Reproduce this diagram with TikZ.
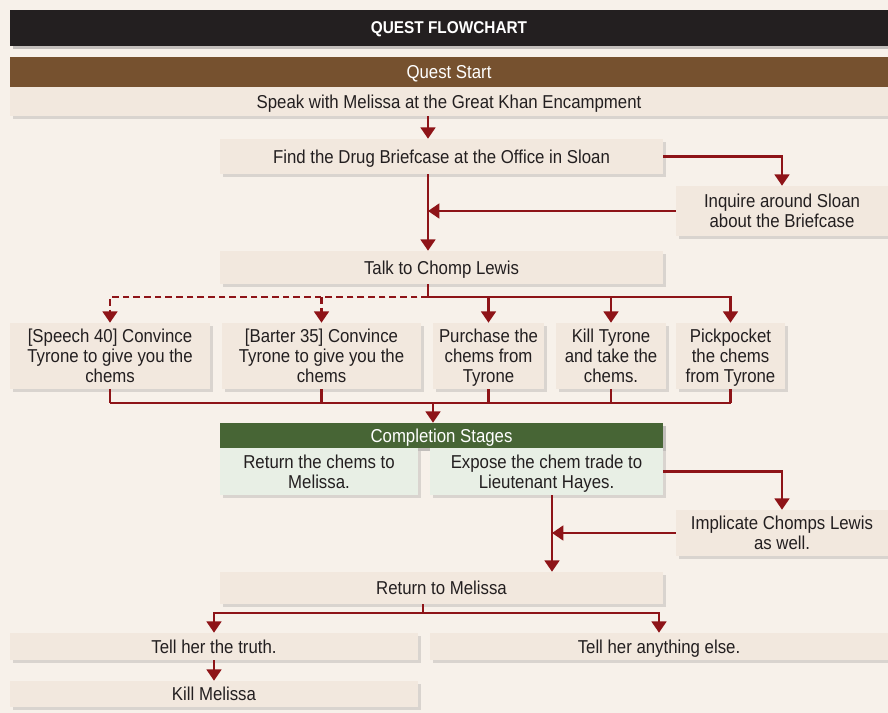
\documentclass[tikz,border=0pt]{standalone}
\usepackage{fontspec}
\setmainfont[FakeStretch=0.9]{Liberation Sans}
\usetikzlibrary{arrows.meta,shadows}

\definecolor{bgcream}{HTML}{F7F1EA}
\definecolor{boxcream}{HTML}{F2E8DE}
\definecolor{boxgreen}{HTML}{E8EFE5}
\definecolor{titleblack}{HTML}{231F20}
\definecolor{startbrown}{HTML}{76512F}
\definecolor{stagegreen}{HTML}{476535}
\definecolor{arrowred}{HTML}{8E1418}

\begin{document}
\begin{tikzpicture}[x=0.75pt,y=-0.75pt,
  font=\fontsize{14}{15}\selectfont, text=titleblack,
  box/.style 2 args={fill=boxcream, minimum width=#1*0.75pt, minimum height=#2*0.75pt,
    inner sep=0pt, align=center, text depth=0pt,
    drop shadow={shadow xshift=2pt, shadow yshift=-2.5pt, opacity=0.25}},
  greenbox/.style 2 args={box={#1}{#2}, fill=boxgreen},
  bar/.style={text=white, drop shadow={shadow xshift=2pt, shadow yshift=-2.5pt, opacity=0.25}},
  link/.style={draw=arrowred, line width=2pt},
  flow/.style={link, -{Triangle[length=8.5pt,width=11pt]}},
  choice/.style={flow, dash pattern=on 5pt off 3pt}]

\fill[bgcream] (0,0) rectangle (888,713);
\useasboundingbox (0,0) rectangle (888,713);

% header
\node[box={878}{36}, bar, fill=titleblack, font=\fontsize{12.8}{15}\selectfont\bfseries] (title) at (449,28) {QUEST FLOWCHART};
\node[box={878}{30}, bar, fill=startbrown] (start) at (449,72) {Quest Start};
\node[box={878}{29}] (speak) at (449,101.5) {Speak with Melissa at the Great Khan Encampment};

\node[box={443}{35}] (find) at (441.5,156.5) {Find the Drug Briefcase at the Office in Sloan};
\node[box={212}{50}] (inquire) at (782,211) {Inquire around Sloan\\about the Briefcase};
\node[box={443}{33}] (talk) at (441.5,267.5) {Talk to Chomp Lewis};

% ways to get the chems
\node[box={200}{66}] (speech) at (110,356) {[Speech 40] Convince\\Tyrone to give you the\\chems};
\node[box={199}{66}] (barter) at (321.5,356) {[Barter 35] Convince\\Tyrone to give you the\\chems};
\node[box={111}{66}] (purchase) at (488.5,356) {Purchase the\\chems from\\Tyrone};
\node[box={110}{66}] (killty) at (611,356) {Kill Tyrone\\and take the\\chems.};
\node[box={109}{66}] (pickpocket) at (730.5,356) {Pickpocket\\the chems\\from Tyrone};

% completion
\node[box={443}{25}, bar, fill=stagegreen] (stages) at (441.5,435.5) {Completion Stages};
\node[greenbox={198}{47}] (retchems) at (319,471.5) {Return the chems to\\Melissa.};
\node[greenbox={233}{47}] (expose) at (546.5,471.5) {Expose the chem trade to\\Lieutenant Hayes.};
\node[box={212}{46}] (implicate) at (782,533) {Implicate Chomps Lewis\\as well.};
\node[box={443}{32}] (retmel) at (441.5,588) {Return to Melissa};
\node[box={408}{27}] (truth) at (214,646.5) {Tell her the truth.};
\node[box={458}{27}] (anything) at (659,646.5) {Tell her anything else.};
\node[box={408}{26}] (killmel) at (214,694) {Kill Melissa};

\coordinate (trunk) at (428,0);
\coordinate (fork) at (428,297);
\coordinate (merge) at (433,403);
\coordinate (trunkb) at (552,0);
\coordinate (split) at (423,613);

\draw[flow] (trunk |- speak.south) -- (trunk |- find.north);
\draw[flow] (find.east) -| (inquire.north);
\draw[flow] (inquire.west) -- (trunk |- inquire.west);
\draw[flow] (trunk |- find.south) -- (trunk |- talk.north);

\draw[link] (trunk |- talk.south) -- (fork);
\draw[choice] (fork) -| (speech.north);
\draw[choice] (fork) -| (barter.north);
\foreach \n in {purchase,killty,pickpocket}{
\draw[flow] (fork) -| (\n.north);
}

\foreach \n in {speech,barter,purchase,killty,pickpocket}{
\draw[link] (\n.south) -- (\n.south |- merge);
}
\draw[link] (speech.south |- merge) -- (pickpocket.south |- merge);
\draw[flow] (merge) -- (merge |- stages.north);

\draw[flow] (expose.east) -| (implicate.north);
\draw[flow] (implicate.west) -- (trunkb |- implicate.west);
\draw[flow] (trunkb |- expose.south) -- (trunkb |- retmel.north);

\draw[link] (split |- retmel.south) -- (split);
\draw[flow] (split) -| (truth.north);
\draw[flow] (split) -| (anything.north);
\draw[flow] (truth.south) -- (killmel.north);
\end{tikzpicture}
\end{document}
